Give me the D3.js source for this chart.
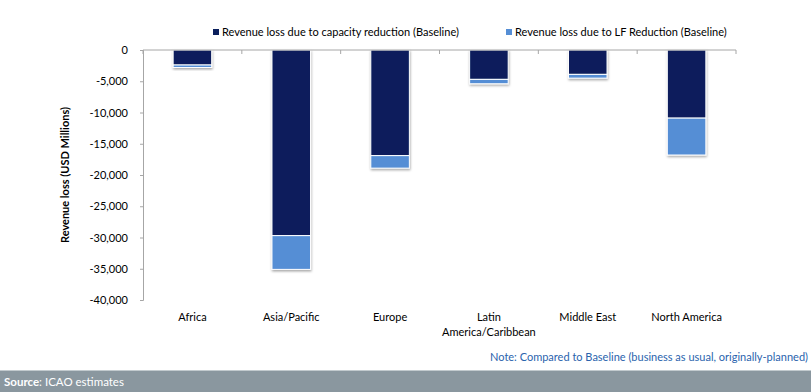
<!DOCTYPE html>
<html><head><meta charset="utf-8">
<script src="https://cdn.jsdelivr.net/npm/d3@7"></script>
<style>
html,body{margin:0;padding:0;background:#fff;}
svg{display:block;font-family:Lato,"Open Sans",sans-serif;}
</style></head>
<body>
<svg id="chart" width="811" height="392"></svg>
<script>
const categories = ["Africa", "Asia/Pacific", "Europe", "Latin America/Caribbean", "Middle East", "North America"];
const capacityLoss = [-2400, -29700, -16900, -4700, -3900, -10900];
const lfLoss = [-400, -5400, -2000, -700, -600, -5900];
const seriesNames = ["Revenue loss due to capacity reduction (Baseline)", "Revenue loss due to LF Reduction (Baseline)"];
const seriesColors = ["#0a1f5c", "#558ed5"];
const yTicks = [0, -5000, -10000, -15000, -20000, -25000, -30000, -35000, -40000];

const svg = d3.select("#chart");
const W = 811, H = 392;
const m = {left: 143, right: 75, top: 50, bottom: 92};

const x = d3.scaleBand().domain(categories).range([m.left, W - m.right]).paddingInner(0.61).paddingOuter(0.305);
const y = d3.scaleLinear().domain([-40000, 0]).range([H - m.bottom, m.top]);

// defs: shadow
const defs = svg.append("defs");
const f = defs.append("filter").attr("id", "sh").attr("x", "-20%").attr("y", "-20%").attr("width", "140%").attr("height", "140%");
f.append("feDropShadow").attr("dx", 0.5).attr("dy", 1.5).attr("stdDeviation", 1).attr("flood-color", "#000").attr("flood-opacity", 0.35);

// y axis
const yAxis = d3.axisLeft(y).tickValues(yTicks).tickSize(3).tickPadding(12)
  .tickFormat(d => d === 0 ? "0" : d3.format(",")(d).replace("−", "-"));
const gy = svg.append("g").attr("transform", `translate(${m.left},0)`).call(yAxis);
gy.select(".domain").attr("stroke", "#a6a6a6");
gy.selectAll(".tick line").attr("stroke", "#a6a6a6");
gy.selectAll(".tick text").attr("font-size", 11).attr("fill", "#000").attr("font-family", "Lato,'Open Sans',sans-serif");

// stacked data
const stackData = categories.map((c, i) => ({cat: c, cap: capacityLoss[i], lf: lfLoss[i]}));
const gb = svg.append("g");
stackData.forEach(d => {
  const g = gb.append("g").attr("filter", "url(#sh)");
  g.append("rect").attr("x", x(d.cat)).attr("width", x.bandwidth())
    .attr("y", y(0)).attr("height", y(d.cap) - y(0))
    .attr("fill", seriesColors[0]).attr("stroke", "#fff").attr("stroke-width", 1);
  g.append("rect").attr("x", x(d.cat)).attr("width", x.bandwidth())
    .attr("y", y(d.cap)).attr("height", y(d.cap + d.lf) - y(d.cap))
    .attr("fill", seriesColors[1]).attr("stroke", "#fff").attr("stroke-width", 1);
});

// x axis (at zero, top)
const xTickPos = d3.range(categories.length + 1).map(i => m.left + i * x.step());
const gx = svg.append("g");
gx.append("line").attr("x1", m.left).attr("x2", W - m.right).attr("y1", y(0)).attr("y2", y(0)).attr("stroke", "#a6a6a6");
gx.selectAll("line.t").data(xTickPos).join("line").attr("class", "t")
  .attr("x1", d => d).attr("x2", d => d).attr("y1", y(0)).attr("y2", y(0) + 4).attr("stroke", "#a6a6a6");

// category labels
const labelLines = {"Latin America/Caribbean": ["Latin", "America/Caribbean"]};
categories.forEach(c => {
  const lines = labelLines[c] || [c];
  const t = svg.append("text").attr("x", x(c) + x.bandwidth() / 2).attr("y", 321)
    .attr("text-anchor", "middle").attr("font-size", 11).attr("fill", "#000");
  lines.forEach((l, i) => t.append("tspan").attr("x", x(c) + x.bandwidth() / 2).attr("dy", i ? 15 : 0).text(l));
});

// y title
svg.append("text").attr("transform", `translate(69,${(y(0) + y(-40000)) / 2}) rotate(-90)`)
  .attr("text-anchor", "middle").attr("font-size", 11).attr("font-weight", "bold").text("Revenue loss (USD Millions)");

// legend
const legX = [213, 506];
seriesNames.forEach((n, i) => {
  svg.append("rect").attr("x", legX[i]).attr("y", 29).attr("width", 6).attr("height", 6).attr("fill", seriesColors[i]);
  svg.append("text").attr("x", legX[i] + 9).attr("y", 36).attr("font-size", 11).attr("fill", "#000").text(n);
});

// note
svg.append("text").attr("x", 808).attr("y", 361).attr("text-anchor", "end").attr("font-size", 11)
  .attr("fill", "#2a63ad").text("Note: Compared to Baseline (business as usual, originally-planned)");

// footer
svg.append("rect").attr("x", 0).attr("y", 370).attr("width", W).attr("height", 22).attr("fill", "#8a979f");
svg.append("rect").attr("x", 0).attr("y", 370).attr("width", W).attr("height", 1).attr("fill", "#c2cace");
const src = svg.append("text").attr("x", 4).attr("y", 386).attr("font-size", 11.5).attr("fill", "#fff");
src.append("tspan").attr("font-weight", "bold").text("Source");
src.append("tspan").text(": ICAO estimates");
</script>
</body></html>
